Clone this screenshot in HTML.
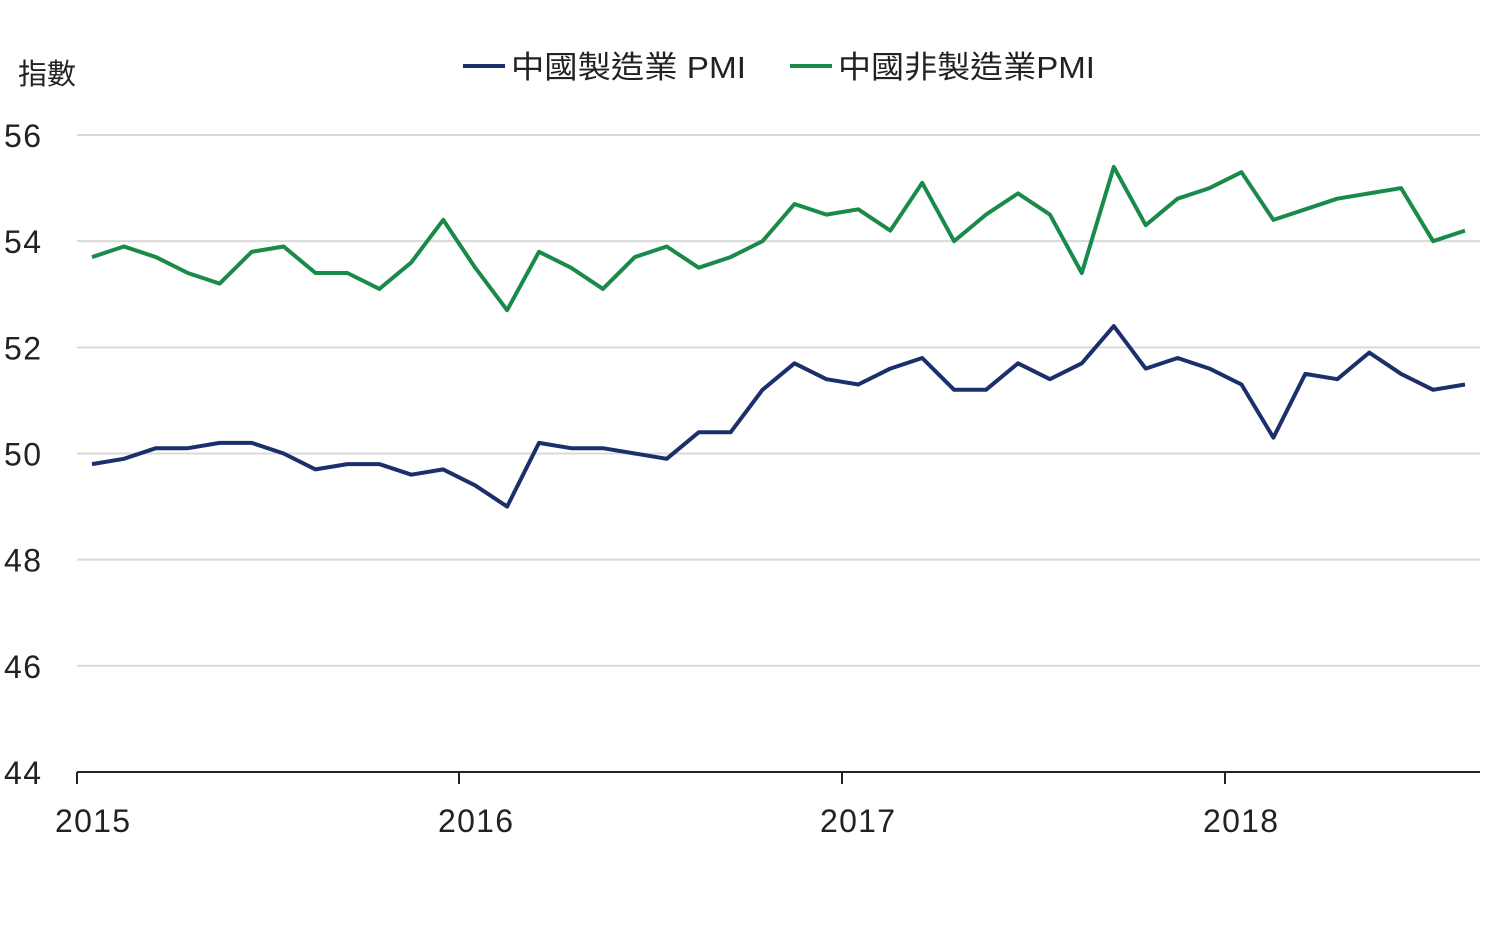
<!DOCTYPE html>
<html><head><meta charset="utf-8"><style>
html,body{margin:0;padding:0;background:#fff;}
svg text{font-family:"Liberation Sans","Noto Sans CJK TC",sans-serif;fill:#222;}
</style></head><body>
<svg id="s" width="1500" height="935" xmlns="http://www.w3.org/2000/svg">
<text x="18" y="84" font-size="29">指數</text>
<line x1="463" y1="66" x2="505" y2="66" stroke="#1b2f6b" stroke-width="4"/>
<text x="511" y="78" font-size="31" textLength="235" lengthAdjust="spacingAndGlyphs">中國製造業 PMI</text>
<line x1="790" y1="66" x2="832" y2="66" stroke="#1a8a4a" stroke-width="4"/>
<text x="838" y="78" font-size="31" textLength="257" lengthAdjust="spacingAndGlyphs">中國非製造業PMI</text>
<g id="grid"></g>
<line x1="77" y1="772" x2="1480" y2="772" stroke="#222" stroke-width="2"/>
<g stroke="#222" stroke-width="2">
<line x1="77" y1="772" x2="77" y2="784"/><line x1="459" y1="772" x2="459" y2="784"/>
<line x1="842" y1="772" x2="842" y2="784"/><line x1="1225" y1="772" x2="1225" y2="784"/>
</g>
<g font-size="32">
<text x="55" y="832" textLength="75">2015</text><text x="438" y="832" textLength="75">2016</text>
<text x="820" y="832" textLength="75">2017</text><text x="1203" y="832" textLength="75">2018</text>
</g>
<polyline id="g" fill="none" stroke="#1a8a4a" stroke-width="4" stroke-linejoin="round"/>
<polyline id="m" fill="none" stroke="#1b2f6b" stroke-width="4" stroke-linejoin="round"/>
</svg>
<script>
var Y=function(v){return 772-(v-44)*53.083;};
var grid=document.getElementById('grid'),h='';
for(var v=44;v<=56;v+=2){var y=Y(v);if(v>44)h+='<line x1="77" y1="'+y+'" x2="1480" y2="'+y+'" stroke="#d9d9d9" stroke-width="2"/>';
h+='<text x="4" y="'+(y+12)+'" font-size="32" textLength="37">'+v+'</text>';}
grid.innerHTML=h;
var m=[49.8,49.9,50.1,50.1,50.2,50.2,50.0,49.7,49.8,49.8,49.6,49.7,49.4,49.0,50.2,50.1,50.1,50.0,49.9,50.4,50.4,51.2,51.7,51.4,51.3,51.6,51.8,51.2,51.2,51.7,51.4,51.7,52.4,51.6,51.8,51.6,51.3,50.3,51.5,51.4,51.9,51.5,51.2,51.3];
var g=[53.7,53.9,53.7,53.4,53.2,53.8,53.9,53.4,53.4,53.1,53.6,54.4,53.5,52.7,53.8,53.5,53.1,53.7,53.9,53.5,53.7,54.0,54.7,54.5,54.6,54.2,55.1,54.0,54.5,54.9,54.5,53.4,55.4,54.3,54.8,55.0,55.3,54.4,54.6,54.8,54.9,55.0,54.0,54.2];
function pts(a){return a.map(function(v,i){return (92+i*31.93).toFixed(1)+','+Y(v).toFixed(1);}).join(' ');}
document.getElementById('m').setAttribute('points',pts(m));
document.getElementById('g').setAttribute('points',pts(g));
</script>
</body></html>
